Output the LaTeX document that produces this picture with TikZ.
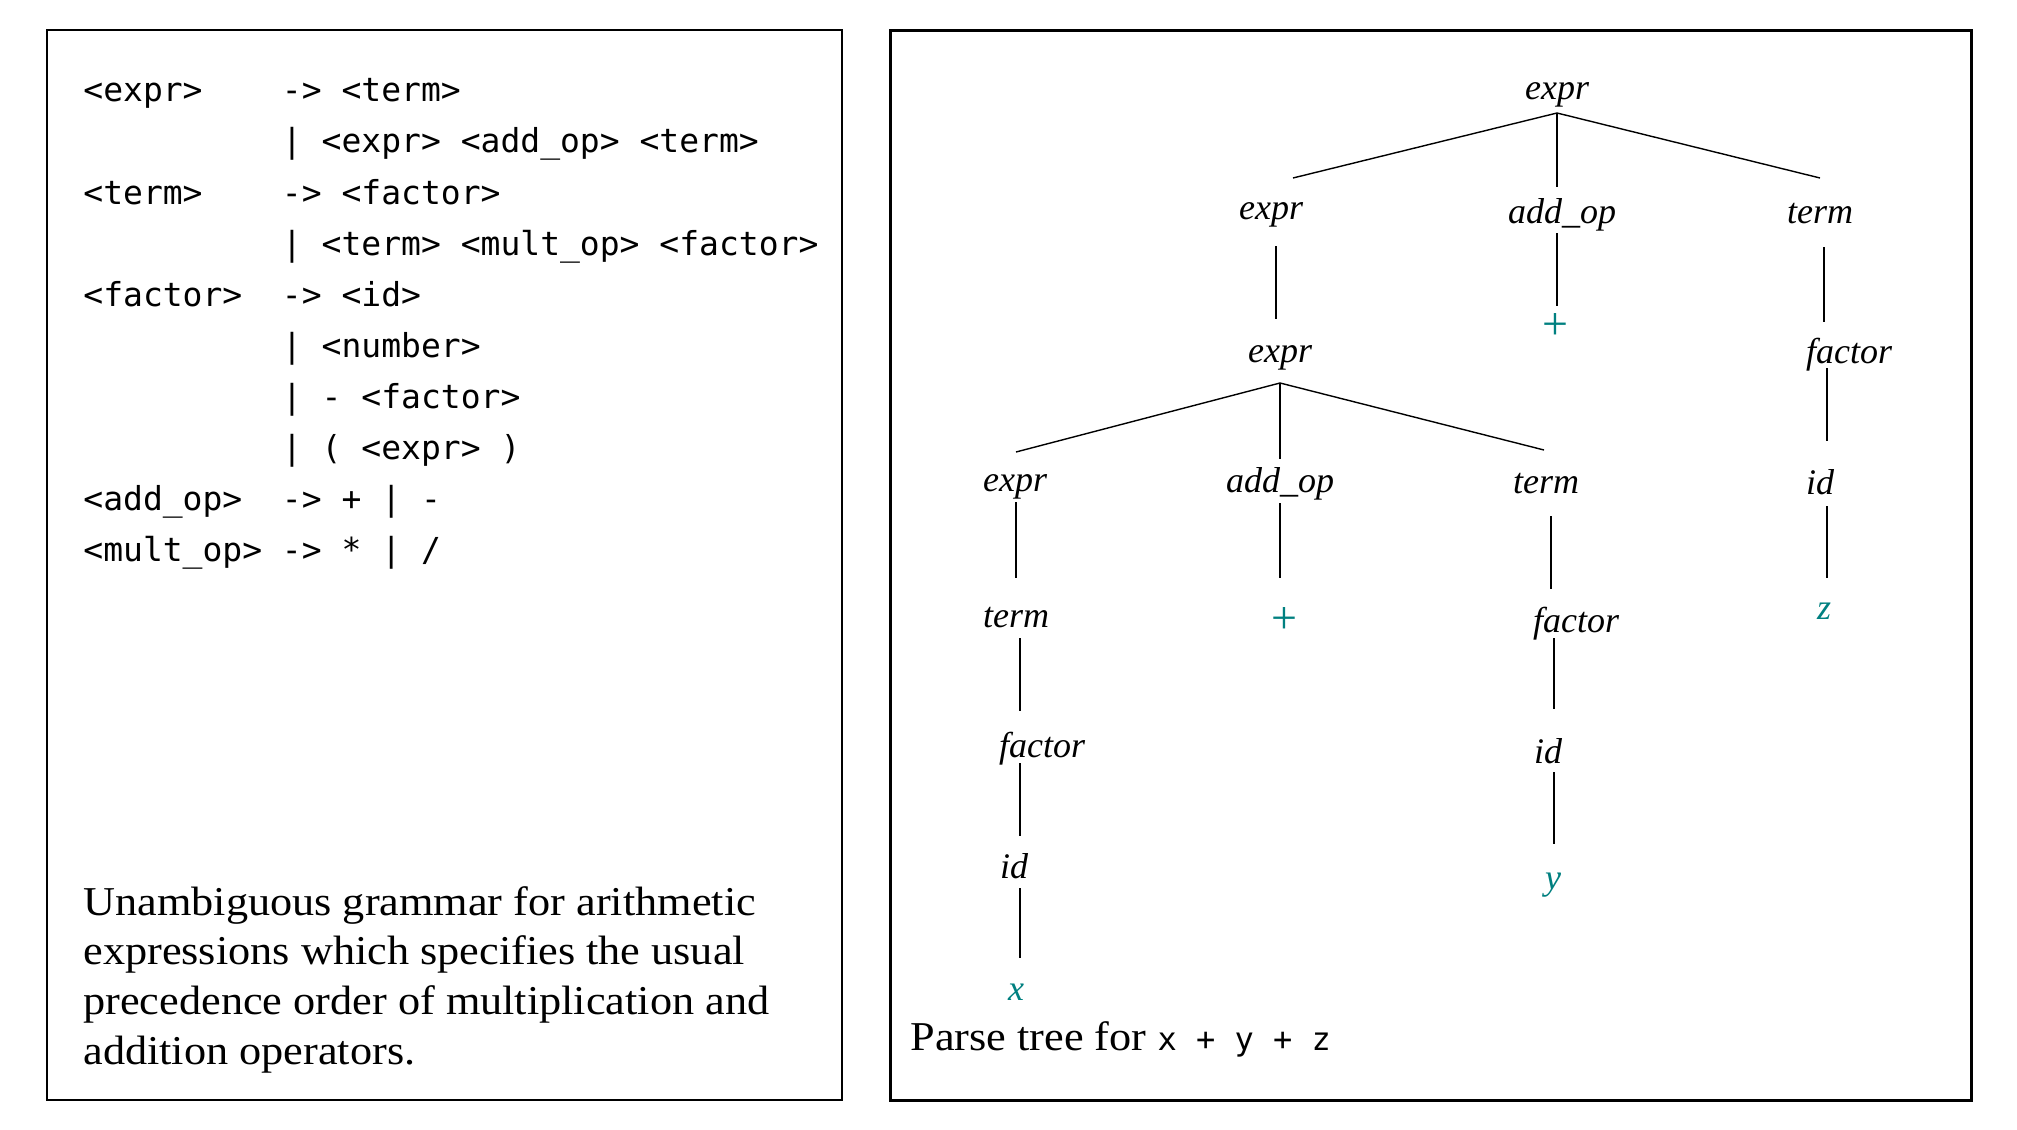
\documentclass[tikz,border=0pt]{standalone}
\usepackage{fontspec}
\setmainfont{Liberation Serif}
\setmonofont{DejaVu Sans Mono}
\newfontfamily\capfont[FakeStretch=1.08]{Liberation Serif}
\definecolor{leafc}{RGB}{0,128,128}
\newcommand{\off}[2]{\makebox[0pt]{\hspace{#1}\raisebox{-2pt}{#2}}}
\newcommand{\plusoff}[1]{\makebox[0pt]{\hspace{#1}\raisebox{-3pt}{\fontsize{23}{24}\selectfont\upshape +}}}
\newcommand{\gl}[2]{\makebox[99.3pt][l]{#1}#2}
\begin{document}
\begin{tikzpicture}[x=0.5pt,y=-0.5pt,
  tn/.style={anchor=base, inner sep=0pt, font=\fontsize{18}{20}\selectfont\itshape},
  lf/.style={tn, text=leafc},
  gram/.style={anchor=base west, inner sep=0pt, font=\fontsize{16.5}{20}\selectfont\ttfamily},
  captext/.style={anchor=base west, inner sep=0pt, font=\fontsize{20.5}{24}\selectfont\capfont},
  edge/.style={line width=0.7pt},
  lbox/.style={draw, line width=0.9pt},
  rbox/.style={draw, line width=1.4pt}]
\useasboundingbox (0,0) rectangle (2017,1129);
\fill[white] (0,0) rectangle (2017,1129);
% frames
\node[lbox, inner sep=0pt, minimum width=397.5pt, minimum height=535pt, anchor=north west] (lframe) at (46,29) {};
\node[rbox, inner sep=0pt, minimum width=540.5pt, minimum height=535pt, anchor=north west] (rframe) at (889,29) {};
% grammar
\node[gram] (g0) at (83,102) {\gl{<expr>}{-> <term>}};
\node[gram] (g1) at (83,153) {\gl{}{| <expr> <add\_op> <term>}};
\node[gram] (g2) at (83,204) {\gl{<term>}{-> <factor>}};
\node[gram] (g3) at (83,255) {\gl{}{| <term> <mult\_op> <factor>}};
\node[gram] (g4) at (83,306) {\gl{<factor>}{-> <id>}};
\node[gram] (g5) at (83,357) {\gl{}{| <number>}};
\node[gram] (g6) at (83,408) {\gl{}{| - <factor>}};
\node[gram] (g7) at (83,459) {\gl{}{| ( <expr> )}};
\node[gram] (g8) at (83,510) {\gl{<add\_op>}{-> + | -}};
\node[gram] (g9) at (83,561) {\gl{<mult\_op>}{-> * | /}};
% caption left
\node[captext] (c1) at (83,915) {Unambiguous grammar for arithmetic};
\node[captext] (c2) at (83,964) {expressions which specifies the usual};
\node[captext] (c3) at (83,1014) {precedence order of multiplication and};
\node[captext] (c4) at (83,1064) {addition operators.};
% caption right
\node[captext] (pt) at (910,1050) {Parse tree for {\fontsize{16}{20}\selectfont\ttfamily x + y + z}};
% tree nodes
\node[tn] (r) at (1557,96) {\off{0pt}{expr}};
\node[tn] (a) at (1276,215) {\off{-5pt}{expr}};
\node[tn] (b) at (1557,219) {\off{5pt}{add\_op}};
\node[tn] (c) at (1822,219) {\off{-2pt}{term}};
\node[lf] (bp) at (1557,333) {\plusoff{-2pt}};
\node[tn] (cf) at (1826,359) {\off{23pt}{factor}};
\node[tn] (cfi) at (1827,490) {\off{-7pt}{id}};
\node[lf] (z) at (1827,615) {\off{-3pt}{z}};
\node[tn] (a2) at (1280,358) {\off{0pt}{expr}};
\node[tn] (e) at (1016,487) {\off{-1pt}{expr}};
\node[tn] (f) at (1280,488) {\off{0pt}{add\_op}};
\node[tn] (g) at (1549,489) {\off{-3pt}{term}};
\node[tn] (et) at (1018,623) {\off{-2pt}{term}};
\node[tn] (ef) at (1020,753) {\off{22pt}{factor}};
\node[tn] (ei) at (1020,874) {\off{-6pt}{id}};
\node[lf] (x) at (1020,996) {\off{-4pt}{x}};
\node[lf] (fp) at (1280,627) {\plusoff{4pt}};
\node[tn] (gf) at (1552,628) {\off{24pt}{factor}};
\node[tn] (gi) at (1554,759) {\off{-6pt}{id}};
\node[lf] (y) at (1554,885) {\off{-1pt}{y}};
% edges
\draw[edge] ([shift={(0,17)}]r.base) -- ([shift={(17,-37)}]a.base);
\draw[edge] ([shift={(0,17)}]r.base) -- ([shift={(0,-32)}]b.base);
\draw[edge] ([shift={(0,17)}]r.base) -- ([shift={(-2,-41)}]c.base);
\draw[edge] ([shift={(0,31)}]a.base) -- ([shift={(-4,-39)}]a2.base);
\draw[edge] ([shift={(0,14)}]b.base) -- ([shift={(0,-27)}]bp.base);
\draw[edge] ([shift={(2,28)}]c.base) -- ([shift={(-2,-37)}]cf.base);
\draw[edge] ([shift={(1,9)}]cf.base) -- ([shift={(0,-49)}]cfi.base);
\draw[edge] ([shift={(0,16)}]cfi.base) -- ([shift={(0,-37)}]z.base);
\draw[edge] ([shift={(0,25)}]a2.base) -- ([shift={(0,-35)}]e.base);
\draw[edge] ([shift={(0,25)}]a2.base) -- ([shift={(0,-29)}]f.base);
\draw[edge] ([shift={(0,25)}]a2.base) -- ([shift={(-5,-39)}]g.base);
\draw[edge] ([shift={(0,15)}]e.base) -- ([shift={(-2,-45)}]et.base);
\draw[edge] ([shift={(2,15)}]et.base) -- ([shift={(0,-42)}]ef.base);
\draw[edge] ([shift={(0,10)}]ef.base) -- ([shift={(0,-38)}]ei.base);
\draw[edge] ([shift={(0,14)}]ei.base) -- ([shift={(0,-38)}]x.base);
\draw[edge] ([shift={(0,15)}]f.base) -- ([shift={(0,-49)}]fp.base);
\draw[edge] ([shift={(2,27)}]g.base) -- ([shift={(-1,-39)}]gf.base);
\draw[edge] ([shift={(2,10)}]gf.base) -- ([shift={(0,-50)}]gi.base);
\draw[edge] ([shift={(0,13)}]gi.base) -- ([shift={(0,-41)}]y.base);
\end{tikzpicture}
\end{document}
